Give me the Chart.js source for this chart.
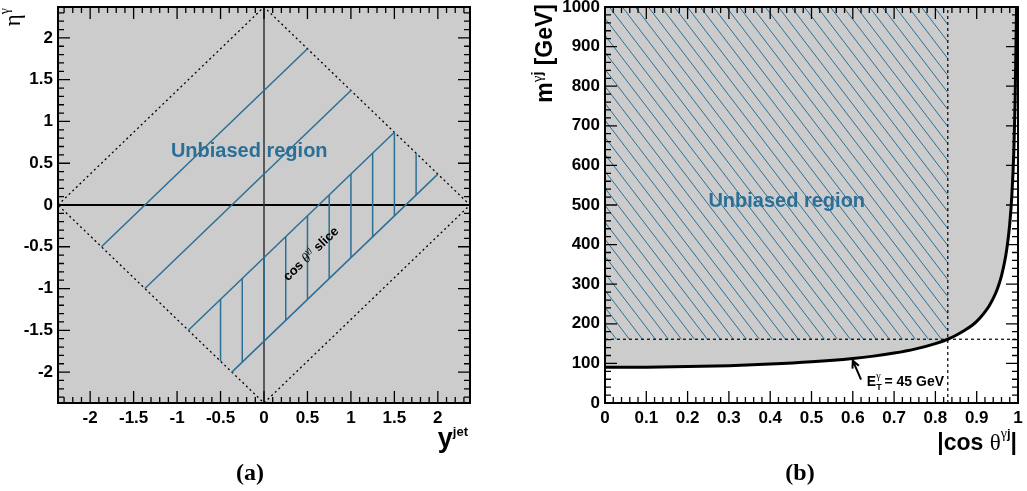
<!DOCTYPE html>
<html>
<head>
<meta charset="utf-8">
<script src="https://cdn.jsdelivr.net/npm/chart.js@4.4.0/dist/chart.umd.min.js"></script>
<style>
html, body { margin: 0; padding: 0; background: #fff; }
#wrap { position: relative; width: 1027px; height: 491px; }
canvas { position: absolute; top: 0; }
</style>
</head>
<body>
<div id="wrap">
  <canvas id="chartA" width="513" height="491" style="left:0"></canvas>
  <canvas id="chartB" width="514" height="491" style="left:513px"></canvas>
</div>
<script>
const SANS = '"Liberation Sans", Arial, Helvetica, sans-serif';
const SERIF = '"Liberation Serif", "Times New Roman", serif';
const BLUE = '#2b6f97';
const GRAY = '#cccccc';

// (a) eta^gamma vs y^jet
const acceptance = [[-2.37, 0], [0, 2.37], [2.37, 0], [0, -2.37], [-2.37, 0]];
const diag1 = [[-1.87, -0.5], [0.5, 1.87]];
const diag2 = [[-1.37, -1.0], [1.0, 1.37]];
const diag3 = [[-0.87, -1.5], [1.5, 0.87]];
const diag4 = [[-0.37, -2.0], [2.0, 0.37]];
const sliceY = [-0.5, -0.25, 0, 0.25, 0.5, 0.75, 1.0, 1.25, 1.5, 1.75];
const sliceLow = [-1.87, -1.88, -1.63, -1.38, -1.13, -0.88, -0.63, -0.38, -0.13, 0.12];
const sliceHigh = [-1.13, -0.88, -0.63, -0.38, -0.13, 0.12, 0.37, 0.62, 0.87, 0.62];

// (b) m^gamma-jet vs |cos theta|
const cosStar = [0, 0.1, 0.2, 0.3, 0.4, 0.5, 0.6, 0.65, 0.7, 0.75, 0.8, 0.83, 0.85, 0.87, 0.89,
                 0.9, 0.91, 0.92, 0.93, 0.94, 0.95, 0.96, 0.97, 0.975, 0.98, 0.985, 0.99, 0.993, 0.9965];
const mThreshold = [90, 90.5, 91.9, 94.3, 98.2, 104, 112.5, 118.4, 126, 136, 150, 161, 171, 183, 197,
                    206, 217, 230, 245, 264, 288, 321, 370, 405, 452, 522, 638, 762, 1000];
const cosCut = 0.83;
const massCut = 161;

function pts(list) { return list.map(p => ({x: p[0], y: p[1]})); }

function line(list, color, width, dash, order) {
  return {data: pts(list), showLine: true, borderColor: color, borderWidth: width,
          borderDash: dash || [], pointRadius: 0, fill: false, order: order || 1};
}

// text with super/subscripts, parts = [text, font, dy, noAdvance]
function rich(ctx, parts, x, y, align) {
  let w = 0;
  for (const p of parts) { ctx.font = p[1]; if (!p[3]) w += ctx.measureText(p[0]).width; }
  let cx = align === 'right' ? x - w : align === 'center' ? x - w / 2 : x;
  for (const p of parts) {
    ctx.font = p[1];
    ctx.fillText(p[0], cx, y + (p[2] || 0));
    if (!p[3]) cx += ctx.measureText(p[0]).width;
  }
}

// ROOT style frame with inner ticks
const rootFrame = {
  id: 'rootFrame',
  beforeDatasetsDraw(chart, args, o) {
    const {ctx, chartArea: a} = chart;
    if (o.fill) {
      ctx.save();
      ctx.fillStyle = o.fill;
      ctx.fillRect(a.left, a.top, a.width, a.height);
      ctx.restore();
    }
  },
  afterDatasetsDraw(chart, args, o) {
    const {ctx, chartArea: a, scales: {x, y}} = chart;
    const each = (scale, major, minor, fn) => {
      const n0 = Math.ceil(scale.min / minor - 1e-6), n1 = Math.floor(scale.max / minor + 1e-6);
      for (let i = n0; i <= n1; i++) {
        const v = i * minor;
        const isMajor = Math.abs(v / major - Math.round(v / major)) < 1e-6;
        fn(scale.getPixelForValue(v), isMajor ? 12 : 6);
      }
    };
    ctx.save();
    ctx.strokeStyle = '#000';
    ctx.lineWidth = 1.3;
    ctx.beginPath();
    each(x, o.xMajor, o.xMinor, (p, len) => {
      ctx.moveTo(p, a.bottom); ctx.lineTo(p, a.bottom - len);
      ctx.moveTo(p, a.top); ctx.lineTo(p, a.top + len);
    });
    each(y, o.yMajor, o.yMinor, (p, len) => {
      ctx.moveTo(a.left, p); ctx.lineTo(a.left + len, p);
      ctx.moveTo(a.right, p); ctx.lineTo(a.right - len, p);
    });
    ctx.stroke();
    ctx.lineWidth = 2;
    ctx.strokeRect(a.left, a.top, a.width, a.height);
    ctx.restore();
  }
};

function axis(min, max, step, size, isY) {
  return {
    type: 'linear', min: min, max: max,
    grid: {display: false, drawTicks: false},
    border: {display: false},
    ticks: {
      stepSize: step, includeBounds: false, autoSkip: false, maxRotation: 0,
      padding: 5, color: '#000',
      font: {family: SANS, weight: 'bold', size: 17},
      callback: v => String(Math.round(v * 100) / 100)
    },
    afterFit(s) {
      if (isY) s.width = size; else s.height = size;
      s.paddingTop = s.paddingBottom = s.paddingLeft = s.paddingRight = 0;
    }
  };
}

function baseOptions(padding, xs, ys, frame) {
  return {
    responsive: false, animation: false, events: [],
    layout: {padding: padding},
    elements: {point: {radius: 0}, line: {tension: 0}},
    scales: {x: xs, y: ys},
    plugins: {legend: {display: false}, tooltip: {enabled: false}, rootFrame: frame}
  };
}

// ---------- panel (a)
const dsA = [
  line(acceptance, '#000', 1.3, [2, 3], 3),
  line([[0, -2.37], [0, 2.37]], '#333', 1.5, null, 3),
  line([[-2.37, 0], [2.37, 0]], '#000', 2, null, 3),
  line(diag1, BLUE, 1.5), line(diag2, BLUE, 1.5), line(diag3, BLUE, 1.5), line(diag4, BLUE, 1.5)
];
sliceY.forEach((v, i) => dsA.push(line([[v, sliceLow[i]], [v, sliceHigh[i]]], BLUE, 1.5)));

const labelsA = {
  id: 'labelsA',
  afterDraw(chart) {
    const {ctx, chartArea: a, scales: {x, y}} = chart;
    ctx.save();
    ctx.textAlign = 'left'; ctx.textBaseline = 'alphabetic';
    ctx.fillStyle = BLUE;
    rich(ctx, [['Unbiased region', 'bold 20px ' + SANS]], x.getPixelForValue(-0.17), y.getPixelForValue(0.575), 'center');
    ctx.fillStyle = '#000';
    ctx.save();
    ctx.translate(x.getPixelForValue(0.571), y.getPixelForValue(-0.619));
    ctx.rotate(-44 * Math.PI / 180);
    rich(ctx, [['cos ', 'bold 13px ' + SANS], ['\u03b8', 'italic 14px ' + SERIF],
               ['\u03b3j', 'italic 9px ' + SERIF, -6], [' slice', 'bold 13px ' + SANS]], 0, 0, 'center');
    ctx.restore();
    ctx.save();
    ctx.translate(a.left - 38, a.top + 1);
    ctx.rotate(-Math.PI / 2);
    rich(ctx, [['\u03b7', '23px ' + SERIF], ['\u03b3', '14px ' + SERIF, -11]], 0, 0, 'right');
    ctx.restore();
    rich(ctx, [['y', 'bold 27px ' + SANS], ['jet', 'bold 13px ' + SANS, -11]], a.right - 2, 447, 'right');
    rich(ctx, [['(a)', 'bold 24px ' + SERIF]], 250, 480, 'center');
    ctx.restore();
  }
};

new Chart('chartA', {
  type: 'scatter',
  data: {datasets: dsA},
  options: baseOptions({left: 0, right: 43, top: 7, bottom: 0},
    axis(-2.37, 2.37, 0.5, 88, false), axis(-2.37, 2.37, 0.5, 58, true),
    {fill: GRAY, xMajor: 0.5, xMinor: 0.1, yMajor: 0.5, yMinor: 0.1}),
  plugins: [rootFrame, labelsA]
});

// ---------- panel (b)
const tile = document.createElement('canvas');
tile.width = 13; tile.height = 17;
const tc = tile.getContext('2d');
tc.strokeStyle = BLUE; tc.lineWidth = 1;
tc.beginPath();
[-13, 0, 13].forEach(dx => { tc.moveTo(dx, 0); tc.lineTo(dx + 13, 17); });
tc.stroke();
const hatch = tc.createPattern(tile, 'repeat');

const curve = pts(cosStar.map((c, i) => [c, mThreshold[i]]));
const dsB = [
  {data: curve, showLine: true, borderWidth: 0, borderColor: 'rgba(0,0,0,0)', backgroundColor: GRAY,
   fill: 'end', pointRadius: 0, cubicInterpolationMode: 'monotone', order: 6},
  {data: pts([[0, massCut], [cosCut, massCut]]), showLine: true, borderWidth: 0, borderColor: 'rgba(0,0,0,0)',
   backgroundColor: hatch, fill: 'end', pointRadius: 0, order: 5},
  line([[cosCut, 0], [cosCut, 1000]], '#000', 1.2, [3, 3], 4),
  line([[0, massCut], [1, massCut]], '#000', 1.2, [3, 3], 4),
  Object.assign(line(cosStar.map((c, i) => [c, mThreshold[i]]), '#000', 3, null, 1), {cubicInterpolationMode: 'monotone'})
];

const labelsB = {
  id: 'labelsB',
  afterDraw(chart) {
    const {ctx, chartArea: a, scales: {x, y}} = chart;
    ctx.save();
    ctx.textAlign = 'left'; ctx.textBaseline = 'alphabetic';
    ctx.fillStyle = BLUE;
    rich(ctx, [['Unbiased region', 'bold 20px ' + SANS]], x.getPixelForValue(0.44), y.getPixelForValue(496), 'center');
    ctx.fillStyle = '#000';
    rich(ctx, [['E', 'bold 14px ' + SANS], ['T', 'bold 9px ' + SANS, 4, true], ['\u03b3', '10px ' + SERIF, -7],
               [' = 45 GeV', 'bold 14px ' + SANS]], x.getPixelForValue(0.634), y.getPixelForValue(42), 'left');
    // arrow to the threshold curve
    const x0 = x.getPixelForValue(0.62), y0 = y.getPixelForValue(59);
    const x1 = x.getPixelForValue(0.60), y1 = y.getPixelForValue(107);
    const ang = Math.atan2(y1 - y0, x1 - x0);
    ctx.strokeStyle = '#000'; ctx.lineWidth = 2;
    ctx.beginPath();
    ctx.moveTo(x0, y0); ctx.lineTo(x1, y1);
    ctx.moveTo(x1 - 8 * Math.cos(ang - 0.45), y1 - 8 * Math.sin(ang - 0.45));
    ctx.lineTo(x1, y1);
    ctx.lineTo(x1 - 8 * Math.cos(ang + 0.45), y1 - 8 * Math.sin(ang + 0.45));
    ctx.stroke();
    ctx.save();
    ctx.translate(a.left - 53, 4);
    ctx.rotate(-Math.PI / 2);
    rich(ctx, [['m', 'bold 23px ' + SANS], ['\u03b3', '15px ' + SERIF, -10], ['j', 'bold 14px ' + SANS, -10],
               [' [GeV]', 'bold 23px ' + SANS]], 0, 0, 'right');
    ctx.restore();
    rich(ctx, [['|cos ', 'bold 23px ' + SANS], ['\u03b8', '23px ' + SERIF], ['\u03b3', '14px ' + SERIF, -12],
               ['j', 'bold 13px ' + SANS, -12], ['|', 'bold 23px ' + SANS]], a.right - 1, 450, 'right');
    rich(ctx, [['(b)', 'bold 24px ' + SERIF]], 287, 480, 'center');
    ctx.restore();
  }
};

new Chart('chartB', {
  type: 'scatter',
  data: {datasets: dsB},
  options: baseOptions({left: 32, right: 9, top: 7, bottom: 0},
    axis(0, 1, 0.1, 88, false), axis(0, 1000, 100, 60, true),
    {fill: null, xMajor: 0.1, xMinor: 0.02, yMajor: 100, yMinor: 20}),
  plugins: [rootFrame, labelsB]
});
</script>
</body>
</html>
